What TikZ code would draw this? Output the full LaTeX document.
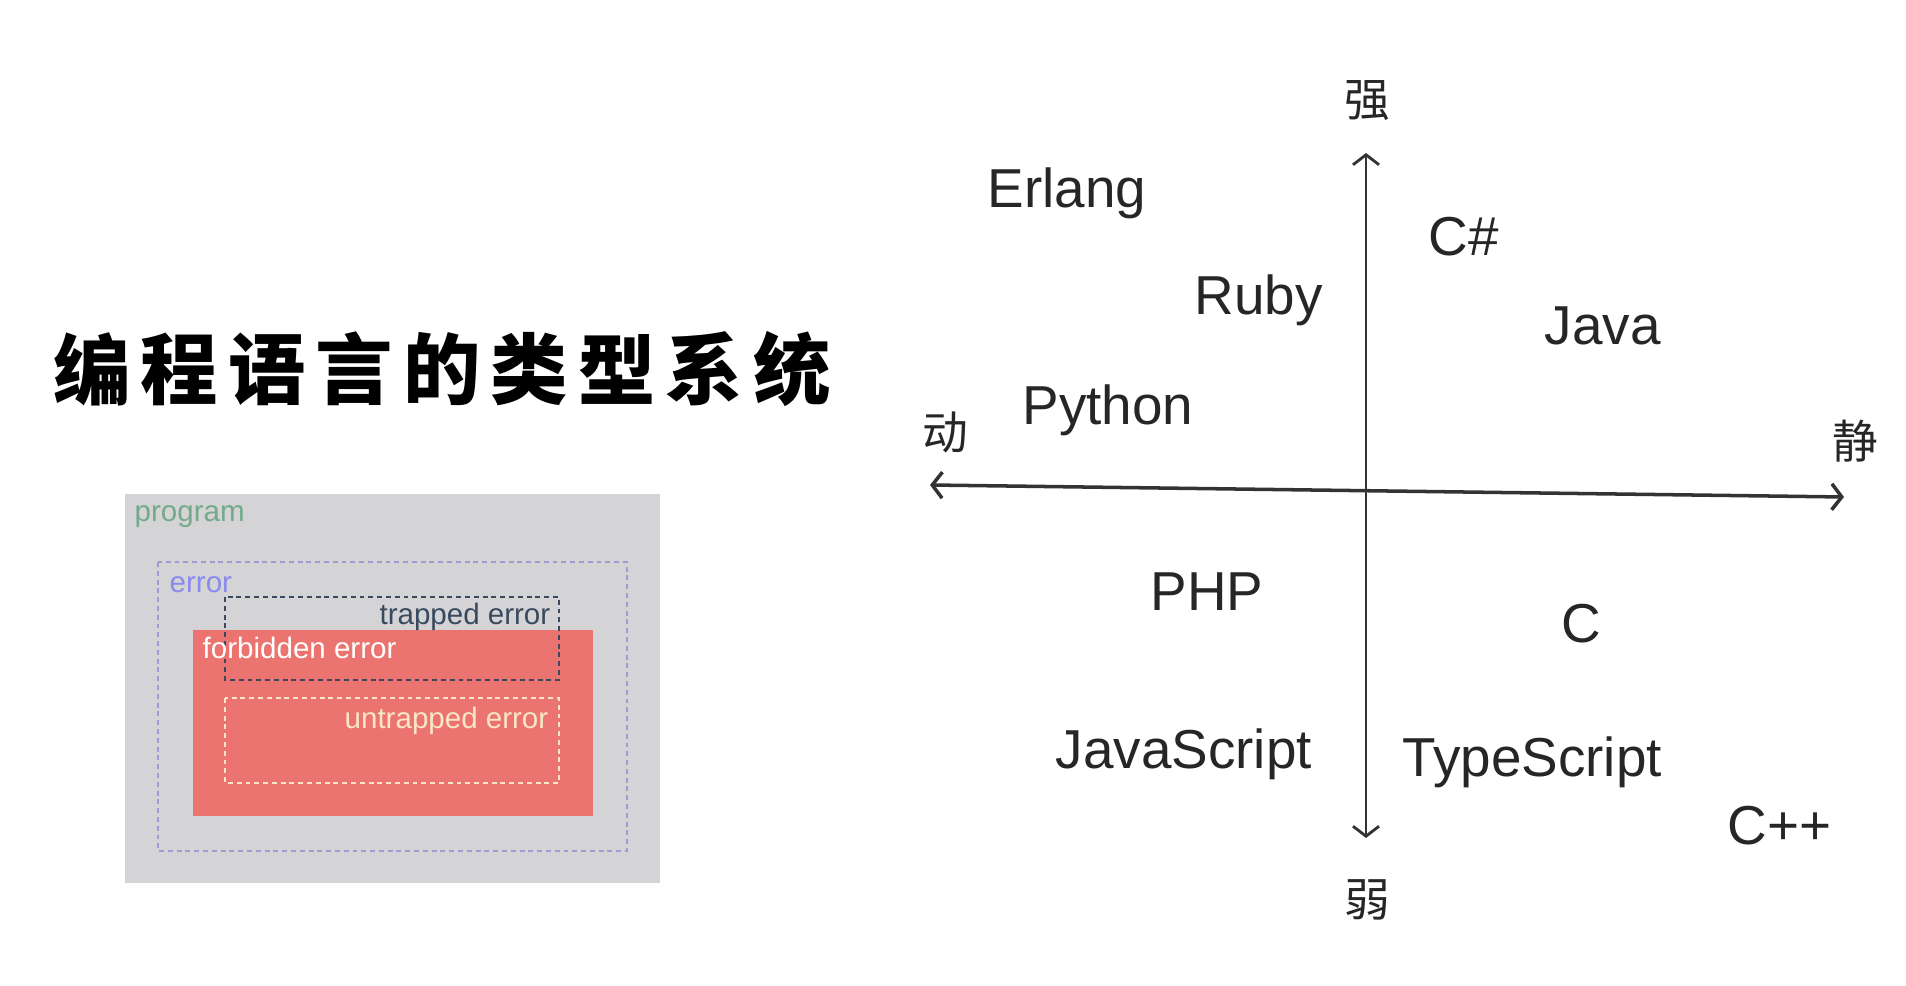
\documentclass[tikz,border=0pt]{standalone}
\usepackage{fontspec}
\setmainfont{Liberation Sans}
\newfontfamily\cjk{Noto Sans CJK SC}
\usepackage{tikz}
\usetikzlibrary{arrows.meta}
\definecolor{panelgray}{HTML}{D4D4D6}
\definecolor{progx}{HTML}{74AA8C}
\definecolor{errx}{HTML}{8A8AEE}
\definecolor{errline}{HTML}{9C9CD2}
\definecolor{trapx}{HTML}{3A4A5E}
\definecolor{forbx}{HTML}{EC7470}
\definecolor{untrapx}{HTML}{F8E6C6}
\tikzset{
  ax/.style={{Straight Barb[length=1mm,width=2.6mm]}-{Straight Barb[length=1mm,width=2.6mm]},line width=0.8pt,black!80},
  lang/.style={font=\fontsize{15.6}{18}\selectfont,anchor=base west,inner sep=0pt,text=black!85},
  pole/.style={font=\cjk\fontsize{13}{15}\selectfont,inner sep=0pt,text=black!85},
  ttl/.style={font=\cjk\bfseries\fontsize{22}{24}\selectfont,inner sep=0pt},
  tag/.style={font=\fontsize{8.4}{10}\selectfont,inner sep=0pt},
  dbox/.style={dash pattern=on 1.4pt off 1.1pt,line width=0.6pt}
}
\begin{document}
\begin{tikzpicture}[x=0.01cm,y=-0.01cm]
\useasboundingbox (0,0) rectangle (1906,986);
% title
\foreach \ch [count=\i from 0] in {编,程,语,言,的,类,型,系,统}
  \node[ttl] (t\i) at (92+87.5*\i,369) {\ch};
% error classes
\fill[panelgray] (125,494) rectangle (660,883);
\draw[dbox,errline] (158,562) rectangle (627,851);
\fill[forbx] (193,630) rectangle (593,816);
\draw[dbox,trapx] (225,597) rectangle (559,680);
\draw[dbox,untrapx] (225,698) rectangle (559,783);
\node[tag,anchor=base west,text=progx] (prog) at (134,522) {program};
\node[tag,anchor=base west,text=errx] (err) at (169,593) {error};
\node[tag,anchor=base east,text=trapx] (trap) at (551,625) {trapped error};
\node[tag,anchor=base west,text=white] (forb) at (202,659) {forbidden error};
\node[tag,anchor=base east,text=untrapx] (untrap) at (549,729) {untrapped error};
% axes
\coordinate (top) at (1366,153);
\coordinate (bot) at (1366,838);
\coordinate (lft) at (930,485);
\coordinate (rgt) at (1844,497);
\draw[ax] (bot) -- (top);
\draw[ax,line width=1pt] (lft) -- (rgt);
\node[pole] (strong) at (1367,101) {强};
\node[pole] (weak) at (1367,900) {弱};
\node[pole] (dyn) at (945,433) {动};
\node[pole] (stat) at (1855,441) {静};
% languages
\node[lang] (erlang) at (987,208) {Erlang};
\node[lang] (csharp) at (1428,256) {C\#};
\node[lang] (ruby) at (1194,315) {Ruby};
\node[lang] (java) at (1544,345) {Java};
\node[lang] (python) at (1022,425) {Python};
\node[lang] (php) at (1150,611) {PHP};
\node[lang] (c) at (1561,643) {C};
\node[lang] (js) at (1055,769) {JavaScript};
\node[lang] (ts) at (1402,777) {TypeScript};
\node[lang] (cpp) at (1727,845) {C++};
\end{tikzpicture}
\end{document}
